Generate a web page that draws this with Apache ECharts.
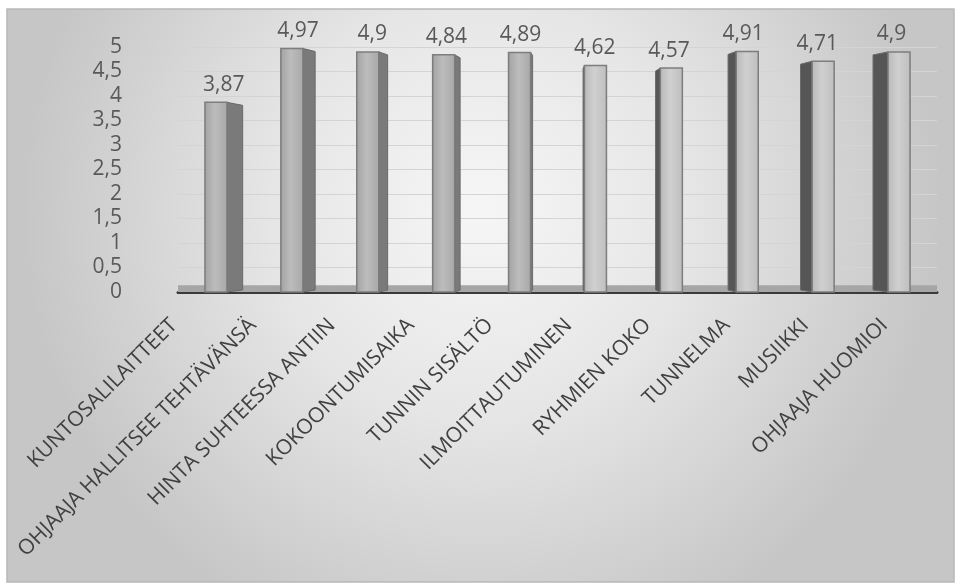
<!DOCTYPE html>
<html>
<head>
<meta charset="utf-8">
<script src="https://cdn.jsdelivr.net/npm/echarts@6/dist/echarts.min.js"></script>
<style>
  html, body { margin: 0; padding: 0; background: #fff; }
  #chart { width: 955px; height: 583px; }
</style>
</head>
<body>
<div id="chart"></div>
<script>
"use strict";
// kategoriat ja keskiarvot
var categories = ['KUNTOSALILAITTEET', 'OHJAAJA HALLITSEE TEHTÄVÄNSÄ', 'HINTA SUHTEESSA ANTIIN',
    'KOKOONTUMISAIKA', 'TUNNIN SISÄLTÖ', 'ILMOITTAUTUMINEN', 'RYHMIEN KOKO',
    'TUNNELMA', 'MUSIIKKI', 'OHJAAJA HUOMIOI'];
var values = [3.87, 4.97, 4.9, 4.84, 4.89, 4.62, 4.57, 4.91, 4.71, 4.9];
var yTicks = [0, 0.5, 1, 1.5, 2, 2.5, 3, 3.5, 4, 4.5, 5];

var chart = echarts.init(document.getElementById('chart'));
var FONT = '"Open Sans", "Noto Sans", sans-serif';
var VANISH_X = 565; // perspektiivin keskikohta

function fmt(v) {
    return String(v).replace('.', ',');
}

// "3D" pylväs: etupinta + sivupinta perspektiivillä, arvo ja kategorian nimi
function renderBar(params, api) {
    var idx = api.value(0);
    var val = api.value(1);
    var base = api.coord([idx, 0]);
    var top = api.coord([idx, val]);
    var w = 22;
    var x = base[0] - w / 2;
    var dx = (VANISH_X - base[0]) * 0.045;
    var side;
    if (dx >= 0) {
        side = [[x + w, top[1]], [x + w + dx, top[1] + 3], [x + w + dx, base[1] - 2], [x + w, base[1]]];
    } else {
        side = [[x, top[1]], [x + dx, top[1] + 3], [x + dx, base[1] - 2], [x, base[1]]];
    }
    var right = dx < 0;
    var labelX = base[0] - 28 - (VANISH_X - base[0]) * 0.04;
    return {
        type: 'group',
        children: [
            {
                type: 'polygon',
                shape: { points: side },
                style: { fill: right ? '#565656' : '#7a7a7a', stroke: '#6a6a6a', lineWidth: 1 }
            },
            {
                type: 'rect',
                shape: { x: x, y: top[1], width: w, height: base[1] - top[1] },
                style: {
                    fill: new echarts.graphic.LinearGradient(0, 0, 1, 0, [
                        { offset: 0, color: right ? '#b8b8b8' : '#a2a2a2' },
                        { offset: 0.45, color: right ? '#d0d0d0' : '#bcbcbc' },
                        { offset: 1, color: right ? '#bebebe' : '#a8a8a8' }
                    ]),
                    stroke: '#7d7d7d',
                    lineWidth: 1.5
                }
            },
            {
                type: 'text',
                x: base[0] + dx / 2,
                y: top[1] - 7,
                style: {
                    text: fmt(val),
                    fill: '#595959',
                    font: '21px ' + FONT,
                    align: 'center',
                    verticalAlign: 'bottom'
                }
            },
            {
                type: 'text',
                x: labelX,
                y: base[1] + 30,
                rotation: Math.PI / 4,
                style: {
                    text: categories[idx],
                    fill: '#404040',
                    font: '21px ' + FONT,
                    align: 'right',
                    verticalAlign: 'middle'
                }
            }
        ]
    };
}

var option = {
    backgroundColor: '#fff',
    animation: false,
    graphic: [{
        type: 'rect',
        z: -10,
        silent: true,
        shape: { x: 7, y: 9, width: 947, height: 573 },
        style: {
            fill: new echarts.graphic.RadialGradient(0.5, 0.35, 0.8, [
                { offset: 0, color: '#f6f6f6' },
                { offset: 0.45, color: '#e6e6e6' },
                { offset: 1, color: '#c6c6c6' }
            ]),
            stroke: '#b8b8b8',
            lineWidth: 1.5
        }
    }],
    grid: { left: 178, right: 18, top: 47, bottom: 291 },
    xAxis: {
        type: 'category',
        data: categories,
        offset: 4,
        axisLine: { lineStyle: { color: '#3a3a3a', width: 3 } },
        axisTick: { show: false },
        axisLabel: { show: false }
    },
    yAxis: {
        type: 'value',
        min: 0,
        max: 5,
        interval: 0.5,
        axisLine: { show: false },
        axisTick: { show: false },
        splitLine: { lineStyle: { color: '#d4d4d4', width: 1 } },
        axisLabel: {
            margin: 56,
            color: '#595959',
            fontSize: 21,
            fontFamily: FONT,
            formatter: function (v) { return yTicks.indexOf(v) >= 0 ? fmt(v) : ''; }
        }
    },
    series: [{
        type: 'custom',
        renderItem: renderBar,
        clip: false,
        encode: { x: 0, y: 1 },
        data: values.map(function (v, i) { return [i, v]; }),
        markArea: {
            silent: true,
            itemStyle: { color: '#a6a6a6' },
            data: [[{ yAxis: 0 }, { yAxis: 0.14 }]]
        },
        z: 3
    }]
};

chart.setOption(option);
</script>
</body>
</html>
